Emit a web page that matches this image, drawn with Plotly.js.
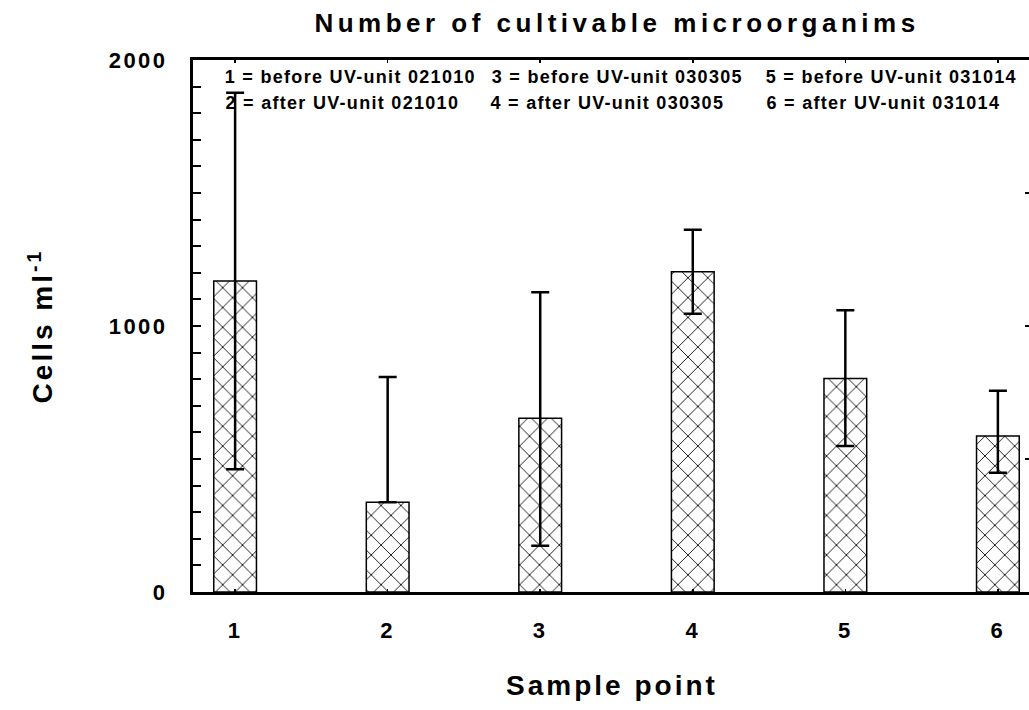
<!DOCTYPE html>
<html>
<head>
<meta charset="utf-8">
<script src="https://cdn.plot.ly/plotly-3.0.1.min.js"></script>
<style>
html, body { margin: 0; padding: 0; overflow: hidden; background: #fff; }
#chart { width: 1034px; height: 710px; }
.js-plotly-plot .plotly .gtitle { letter-spacing: 4.5px; }
.js-plotly-plot .plotly .xtitle, .js-plotly-plot .plotly .ytitle { letter-spacing: 3px; }
.js-plotly-plot .plotly .xtick text, .js-plotly-plot .plotly .ytick text { letter-spacing: 2.5px; }
.js-plotly-plot .plotly .annotation-text { letter-spacing: 1.3px; }
</style>
</head>
<body>
<div id="chart"></div>
<script>
// Data
const samplePoints = [1, 2, 3, 4, 5, 6];
const cellsMean = [1169, 337, 653, 1204, 803, 586];
const errPlus = [708, 471, 474, 158, 256, 171];
const errMinus = [708, 0, 479, 158, 254, 138];
const yTickVals = [0, 1000, 2000];
const yTickText = ['0', '1000', '2000'];
const legendLines = [
  '1 = before UV-unit 021010',
  '2 = after UV-unit 021010',
  '3 = before UV-unit 030305',
  '4 = after UV-unit 030305',
  '5 = before UV-unit 031014',
  '6 = after UV-unit 031014'
];

const FONT = 'Liberation Sans, Arial, Helvetica, sans-serif';

const trace = {
  type: 'bar',
  x: samplePoints,
  y: cellsMean,
  width: 0.28,
  marker: {
    color: 'white',
    line: { color: 'black', width: 1.5 },
    pattern: { shape: 'x', size: 14, solidity: 0.12, fgcolor: 'black', bgcolor: 'white', fillmode: 'replace' }
  },
  error_y: {
    type: 'data',
    symmetric: false,
    array: errPlus,
    arrayminus: errMinus,
    color: 'black',
    thickness: 2.5,
    width: 9
  },
  hoverinfo: 'x+y'
};

// invisible helper trace on the right-hand axis so its ticks are drawn
const rightTrace = {
  type: 'scatter', mode: 'none',
  x: [samplePoints[0]], y: [cellsMean[0]],
  yaxis: 'y2', hoverinfo: 'skip', showlegend: false
};

// Legend text placed in two rows, three columns (paper coordinates, centred)
const L = 193, W = 838, T = 60, H = 532;
const colPx = [350, 342, 617, 607, 891, 883];
const rowPx = [77, 103, 77, 103, 77, 103];
const annotations = legendLines.map((t, i) => ({
  text: t,
  xref: 'paper', yref: 'paper',
  x: (colPx[i] - L) / W,
  y: 1 - (rowPx[i] - T) / H,
  xanchor: 'center', yanchor: 'middle',
  showarrow: false,
  font: { family: FONT, size: 18, color: 'black', weight: 'bold' }
}));

const layout = {
  width: 1034,
  height: 710,
  margin: { l: 193, r: 3, t: 60, b: 118, pad: 0 },
  paper_bgcolor: 'white',
  plot_bgcolor: 'white',
  showlegend: false,
  title: {
    text: 'Number of cultivable microorganims',
    font: { family: FONT, size: 26, color: 'black', weight: 'bold' },
    xref: 'container', yref: 'container',
    x: 617 / 1034, xanchor: 'center',
    y: 1 - 23 / 710, yanchor: 'middle'
  },
  xaxis: {
    range: [0.724, 6.217],
    tickvals: samplePoints,
    ticktext: samplePoints.map(String),
    ticks: 'inside', ticklen: 3, tickwidth: 1.5, tickcolor: 'black',
    showline: true, linecolor: 'black', linewidth: 3,
    mirror: 'ticks',
    showgrid: false, zeroline: false,
    tickfont: { family: FONT, size: 22, color: 'black', weight: 'bold' },
    ticklabelstandoff: 17,
    title: {
      text: 'Sample point',
      font: { family: FONT, size: 28, color: 'black', weight: 'bold' },
      standoff: 33
    },
    automargin: false
  },
  yaxis: {
    range: [0, 2000],
    tickvals: yTickVals,
    ticktext: yTickText,
    ticks: 'inside', ticklen: 8, tickwidth: 2, tickcolor: 'black',
    minor: { dtick: 100, ticks: 'inside', ticklen: 8, tickwidth: 2, tickcolor: 'black', showgrid: false },
    showline: true, linecolor: 'black', linewidth: 3,
    mirror: true,
    showgrid: false, zeroline: false,
    tickfont: { family: FONT, size: 22, color: 'black', weight: 'bold' },
    ticklabelstandoff: 18,
    title: {
      text: 'Cells ml<sup>-1</sup>',
      font: { family: FONT, size: 28, color: 'black', weight: 'bold' },
      standoff: 58
    },
    automargin: false
  },
  yaxis2: {
    overlaying: 'y', side: 'right',
    range: [0, 2000], dtick: 500,
    ticks: 'inside', ticklen: 6, tickwidth: 2, tickcolor: 'black',
    showticklabels: false, showgrid: false, zeroline: false, showline: false
  },
  annotations: annotations
};

Plotly.newPlot('chart', [trace, rightTrace], layout, { displayModeBar: false, staticPlot: true });
</script>
</body>
</html>
